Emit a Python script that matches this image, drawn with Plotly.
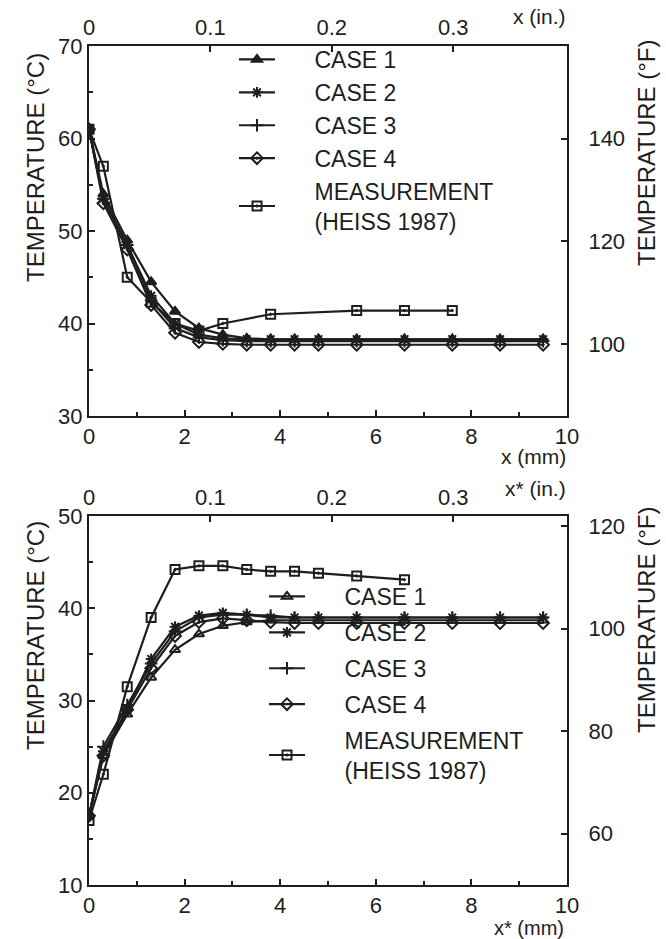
import plotly.graph_objects as go

# ---------------- data ----------------
x_case = [0, 0.3, 0.8, 1.3, 1.8, 2.3, 2.8, 3.3, 3.8, 4.3, 4.8, 5.6, 6.6, 7.6, 8.6, 9.5]

top_case1 = [61, 54, 49, 44.5, 41.3, 39.5, 38.8, 38.4, 38.3, 38.3, 38.3, 38.3, 38.3, 38.3, 38.3, 38.3]
top_case2 = [61, 53.5, 48.5, 43, 40, 38.8, 38.4, 38.3, 38.3, 38.3, 38.3, 38.3, 38.3, 38.3, 38.3, 38.3]
top_case3 = [61, 53.5, 48.5, 42.5, 39.5, 38.5, 38.2, 38.1, 38.1, 38.1, 38.1, 38.1, 38.1, 38.1, 38.1, 38.1]
top_case4 = [61, 53, 48, 42, 39, 38, 37.8, 37.7, 37.7, 37.7, 37.7, 37.7, 37.7, 37.7, 37.7, 37.7]
top_meas_x = [0, 0.3, 0.8, 1.3, 1.8, 2.3, 2.8, 3.8, 5.6, 6.6, 7.6]
top_meas = [61, 57, 45, 42.3, 40, 39.2, 40, 41, 41.4, 41.4, 41.4]

bot_case1 = [17.5, 24, 28.5, 32.5, 35.5, 37.2, 38.1, 38.5, 38.7, 38.7, 38.7, 38.7, 38.7, 38.7, 38.7, 38.7]
bot_case2 = [17.5, 24.5, 29, 34.5, 38, 39.2, 39.5, 39.3, 39, 39, 39, 39, 39, 39, 39, 39]
bot_case3 = [17.5, 25, 29.5, 34, 37.5, 39, 39.3, 39.3, 39.2, 39, 39, 39, 39, 39, 39, 39]
bot_case4 = [17.5, 24, 29, 33.5, 37, 38.5, 38.9, 38.7, 38.5, 38.4, 38.4, 38.4, 38.4, 38.4, 38.4, 38.4]
bot_meas_x = [0, 0.3, 0.8, 1.3, 1.8, 2.3, 2.8, 3.3, 3.8, 4.3, 4.8, 5.6, 6.6]
bot_meas = [17, 22, 31.5, 39, 44.2, 44.6, 44.6, 44.2, 44, 44, 43.8, 43.5, 43.1]

names = ["CASE 1", "CASE 2", "CASE 3", "CASE 4", "MEASUREMENT<br>(HEISS 1987)"]
top_symbols = ["triangle-up", "asterisk-open", "cross-thin-open", "diamond-open-dot", "square-open-dot"]
bot_symbols = ["triangle-up-open", "asterisk-open", "cross-thin-open", "diamond-open", "square-open-dot"]

in_ticks = [0, 0.1, 0.2, 0.3]
in_labels = ["0", "0.1", "0.2", "0.3"]
top_c_ticks = [30, 40, 50, 60, 70]
top_f_ticks = [100, 120, 140]
bot_c_ticks = [10, 20, 30, 40, 50]
bot_f_ticks = [60, 80, 100, 120]
mm_ticks = [0, 2, 4, 6, 8, 10]

# ---------------- figure ----------------
INK = "#1e1e1e"
FONT = "Liberation Sans"
fig = go.Figure()

C2F = lambda c: c * 9 / 5 + 32
MM2IN = lambda v: v / 25.4
GAP = "\u2002\u2002\u2002"


def legend_name(n):
    return "<br>".join(GAP + part for part in n.split("<br>"))

top_series = [top_case1, top_case2, top_case3, top_case4]
bot_series = [bot_case1, bot_case2, bot_case3, bot_case4]

for i in range(5):
    xs = x_case if i < 4 else top_meas_x
    ys = top_series[i] if i < 4 else top_meas
    fig.add_trace(go.Scatter(
        x=xs, y=ys, name=legend_name(names[i]), mode="lines+markers",
        line=dict(color=INK, width=2.2),
        marker=dict(symbol=top_symbols[i], size=9, color=INK,
                    line=dict(color=INK, width=2)),
        xaxis="x", yaxis="y", legend="legend", legendgroup="t%d" % i))

for i in range(5):
    xs = x_case if i < 4 else bot_meas_x
    ys = bot_series[i] if i < 4 else bot_meas
    fig.add_trace(go.Scatter(
        x=xs, y=ys, name=legend_name(names[i]), mode="lines+markers",
        line=dict(color=INK, width=2.2),
        marker=dict(symbol=bot_symbols[i], size=9, color=INK,
                    line=dict(color=INK, width=2)),
        xaxis="x3", yaxis="y3", legend="legend2", legendgroup="b%d" % i))

# invisible companions so the inch / Fahrenheit axes are drawn
fig.add_trace(go.Scatter(x=[MM2IN(v) for v in top_meas_x], y=[C2F(t) for t in top_meas],
                         mode="lines", opacity=0, showlegend=False, hoverinfo="skip",
                         xaxis="x2", yaxis="y2"))
fig.add_trace(go.Scatter(x=[MM2IN(v) for v in bot_meas_x], y=[C2F(t) for t in bot_meas],
                         mode="lines", opacity=0, showlegend=False, hoverinfo="skip",
                         xaxis="x4", yaxis="y4"))

W, H = 666, 939
L, R, T, B = 89, 99, 46, 54
ph = H - T - B


def py(p):
    return (H - B - p) / ph

top_dom = [py(416), 1.0]
bot_dom = [0.0, py(516)]

tickfont = dict(family=FONT, size=22, color=INK)
common = dict(showline=True, linecolor=INK, linewidth=2, showgrid=False,
              zeroline=False, ticks="inside", tickcolor=INK, tickwidth=2,
              ticklen=6, tickfont=tickfont, ticklabelstandoff=0)
right = dict(common, ticklabelstandoff=15)
minor_x = dict(ticks="inside", dtick=1, ticklen=4, tickcolor=INK, tickwidth=2)
minor_y = dict(ticks="inside", dtick=5, ticklen=4, tickcolor=INK, tickwidth=2)

fig.update_layout(
    width=W, height=H, margin=dict(l=L, r=R, t=T, b=B),
    paper_bgcolor="white", plot_bgcolor="white",
    font=dict(family=FONT, color=INK),
    xaxis=dict(domain=[0, 1], anchor="y", range=[0, 10], tickvals=mm_ticks,
               minor=minor_x, **common),
    xaxis2=dict(overlaying="x", anchor="y", side="top", range=[0, MM2IN(10)],
                tickvals=in_ticks, ticktext=in_labels, **common),
    yaxis=dict(domain=top_dom, anchor="x", range=[30, 70], tickvals=top_c_ticks,
               minor=minor_y, **common),
    yaxis2=dict(overlaying="y", anchor="x", side="right", range=[C2F(30), C2F(70)],
                tickvals=top_f_ticks, **right),
    xaxis3=dict(domain=[0, 1], anchor="y3", range=[0, 10], tickvals=mm_ticks,
                minor=minor_x, **common),
    xaxis4=dict(overlaying="x3", anchor="y3", side="top", range=[0, MM2IN(10)],
                tickvals=in_ticks, ticktext=in_labels, **common),
    yaxis3=dict(domain=bot_dom, anchor="x3", range=[10, 50], tickvals=bot_c_ticks,
                minor=minor_y, **common),
    yaxis4=dict(overlaying="y3", anchor="x3", side="right", range=[C2F(10), C2F(50)],
                tickvals=bot_f_ticks, **right),
    legend=dict(x=(234 - L) / (W - L - R), y=py(38), xanchor="left", yanchor="top",
                font=dict(family=FONT, size=23, color=INK), bgcolor="rgba(0,0,0,0)",
                tracegroupgap=0, itemwidth=36),
    legend2=dict(x=(264 - L) / (W - L - R), y=py(575), xanchor="left", yanchor="top",
                 font=dict(family=FONT, size=23, color=INK), bgcolor="rgba(0,0,0,0)",
                 tracegroupgap=3, itemwidth=36),
    showlegend=True,
)

ann_font = dict(family=FONT, size=21, color=INK)
title_font = dict(family=FONT, size=24, color=INK)


def ann(text, xp, ypx, angle=0, xanchor="center", font=ann_font, yanchor="middle"):
    fig.add_annotation(text=text, xref="paper", yref="paper",
                       x=(xp - L) / (W - L - R), y=py(ypx), showarrow=False,
                       textangle=angle, font=font, xanchor=xanchor, yanchor=yanchor)

ann("x (in.)", 568, 16, xanchor="right")
ann("x (mm)", 568, 457, xanchor="right")
ann("x* (in.)", 568, 488, xanchor="right")
ann("x* (mm)", 566, 941, xanchor="right", yanchor="bottom",
    font=dict(family=FONT, size=20, color=INK))
ann("TEMPERATURE (°C)", 35, 168, angle=-90, font=title_font)
ann("TEMPERATURE (°F)", 646, 153, angle=-90, font=title_font)
ann("TEMPERATURE (°C)", 35, 636, angle=-90, font=title_font)
ann("TEMPERATURE (°F)", 646, 620, angle=-90, font=title_font)

fig.write_html("out.html")
